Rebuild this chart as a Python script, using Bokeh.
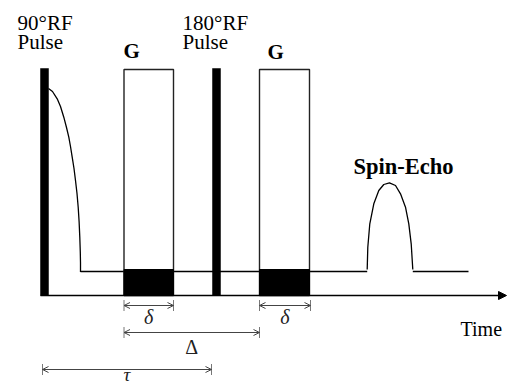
from bokeh.plotting import figure
from bokeh.models import Range1d, Arrow, OpenHead, NormalHead
from bokeh.core.properties import value
from bokeh.embed import file_html
from bokeh.resources import INLINE

# ---- diagram data (time / signal positions) ----
pulse_names = ["90°RF", "180°RF"]
pulse_start = [40, 212]
pulse_end = [48, 220]
pulse_top = [68, 68]

grad_names = ["G", "G"]
grad_start = [123.5, 259]
grad_end = [173, 309]
grad_top = [69, 69]
grad_low = [269, 269]

axis_level = 295
baseline_level = 271

fid_t = [48, 52, 56.7, 60, 63.3, 66, 68.3, 70, 71.7, 73.5, 75, 76.5, 77.7, 78.6, 79.3, 79.8, 80, 80]
fid_s = [88, 91, 98.3, 106, 116.7, 127, 136.7, 146, 156.7, 168, 180, 193, 206.7, 221, 236.7, 252, 262, 271.5]

echo_t = [366.7, 367.3, 369.3, 373.3, 378.3, 383.3, 389, 395, 400, 405, 408.3, 410.7, 412.3]
echo_s = [269, 246.7, 223.3, 203.3, 190, 184, 182.3, 185, 193.3, 206.7, 223.3, 243.3, 269]

base_start = [80, 412.3]
base_end = [366.7, 468]

dim_labels = ["δ", "δ", "Δ", "τ"]
dim_start = [123.5, 259, 123.5, 42]
dim_end = [173, 310, 259, 211]
dim_level = [305, 305, 332, 369]

W, H = 507, 386
p = figure(width=W, height=H, x_range=Range1d(0, W), y_range=Range1d(H, 0),
           output_backend="svg", toolbar_location=None, min_border=0)
p.axis.visible = False
p.grid.visible = False
p.outline_line_color = None
p.background_fill_color = "white"
p.border_fill_color = "white"

# baseline
p.segment(x0=base_start, y0=[baseline_level] * 2, x1=base_end, y1=[baseline_level] * 2,
          line_color="black", line_width=1.3)

# FID
p.line(fid_t, fid_s, line_color="black", line_width=1.3)
# echo
p.line(echo_t, echo_s, line_color="black", line_width=1.3)

# gradient boxes
p.quad(left=grad_start, right=grad_end, top=grad_top, bottom=[axis_level] * 2,
       fill_color="white", line_color="#222222", line_width=1.4)
p.quad(left=grad_start, right=grad_end, top=grad_low, bottom=[axis_level] * 2,
       fill_color="black", line_color="black", line_width=1)

# RF pulses
p.quad(left=pulse_start, right=pulse_end, top=pulse_top, bottom=[axis_level] * 2,
       fill_color="black", line_color="black", line_width=0.5)

# time axis
p.add_layout(Arrow(x_start=40, y_start=axis_level, x_end=506, y_end=axis_level,
                   line_color="black", line_width=1.5,
                   end=NormalHead(size=8, fill_color="black", line_color="black")))

# dimension arrows
for s, e, lv in zip(dim_start, dim_end, dim_level):
    p.add_layout(Arrow(x_start=s, y_start=lv, x_end=e, y_end=lv,
                       line_color="#444444", line_width=1,
                       start=OpenHead(size=6, line_color="#444444", line_width=1),
                       end=OpenHead(size=6, line_color="#444444", line_width=1)))
ticks_x = dim_start + dim_end
ticks_y = dim_level + dim_level
p.segment(x0=ticks_x, y0=[y - 5.5 for y in ticks_y], x1=ticks_x, y1=[y + 5.5 for y in ticks_y],
          line_color="#777777", line_width=1)

serif = value("Liberation Serif")

# pulse labels
p.text(x=[17, 182], y=[22, 22], text=pulse_names, text_font=serif, text_font_size="21px",
       text_baseline="alphabetic", text_color="black")
p.text(x=[17, 182], y=[41, 41], text=["Pulse", "Pulse"], text_font=serif, text_font_size="21px",
       text_baseline="alphabetic", text_color="black")
# gradient labels
p.text(x=[123, 267], y=[50, 51], text=grad_names, text_font=serif, text_font_size="21px",
       text_font_style="bold", text_baseline="alphabetic", text_color="black")
# spin echo
p.text(x=[353], y=[166], text=["Spin-Echo"], text_font=serif, text_font_size="22.5px",
       text_font_style="bold", text_baseline="alphabetic", text_color="black")
# time
p.text(x=[460], y=[328], text=["Time"], text_font=serif, text_font_size="20px",
       text_baseline="alphabetic", text_color="black")
# dimension labels
lab_x = [(s + e) / 2 for s, e in zip(dim_start, dim_end)]
lab_y = [316, 316, 346, 374]
p.text(x=lab_x[:2], y=lab_y[:2], text=dim_labels[:2], text_font=serif, text_font_size="20px",
       text_font_style="italic", text_align="center", text_baseline="alphabetic", text_color="#222222")
p.text(x=[lab_x[2]], y=[lab_y[2]], text=[dim_labels[2]], text_font=serif, text_font_size="20px",
       text_align="center", text_baseline="alphabetic", text_color="#222222")
p.text(x=[lab_x[3]], y=[lab_y[3]], text=[dim_labels[3]], text_font=serif, text_font_size="19px",
       text_font_style="italic", text_align="center", text_baseline="alphabetic", text_color="#222222")

open("out.html", "w").write(file_html(p, INLINE))
